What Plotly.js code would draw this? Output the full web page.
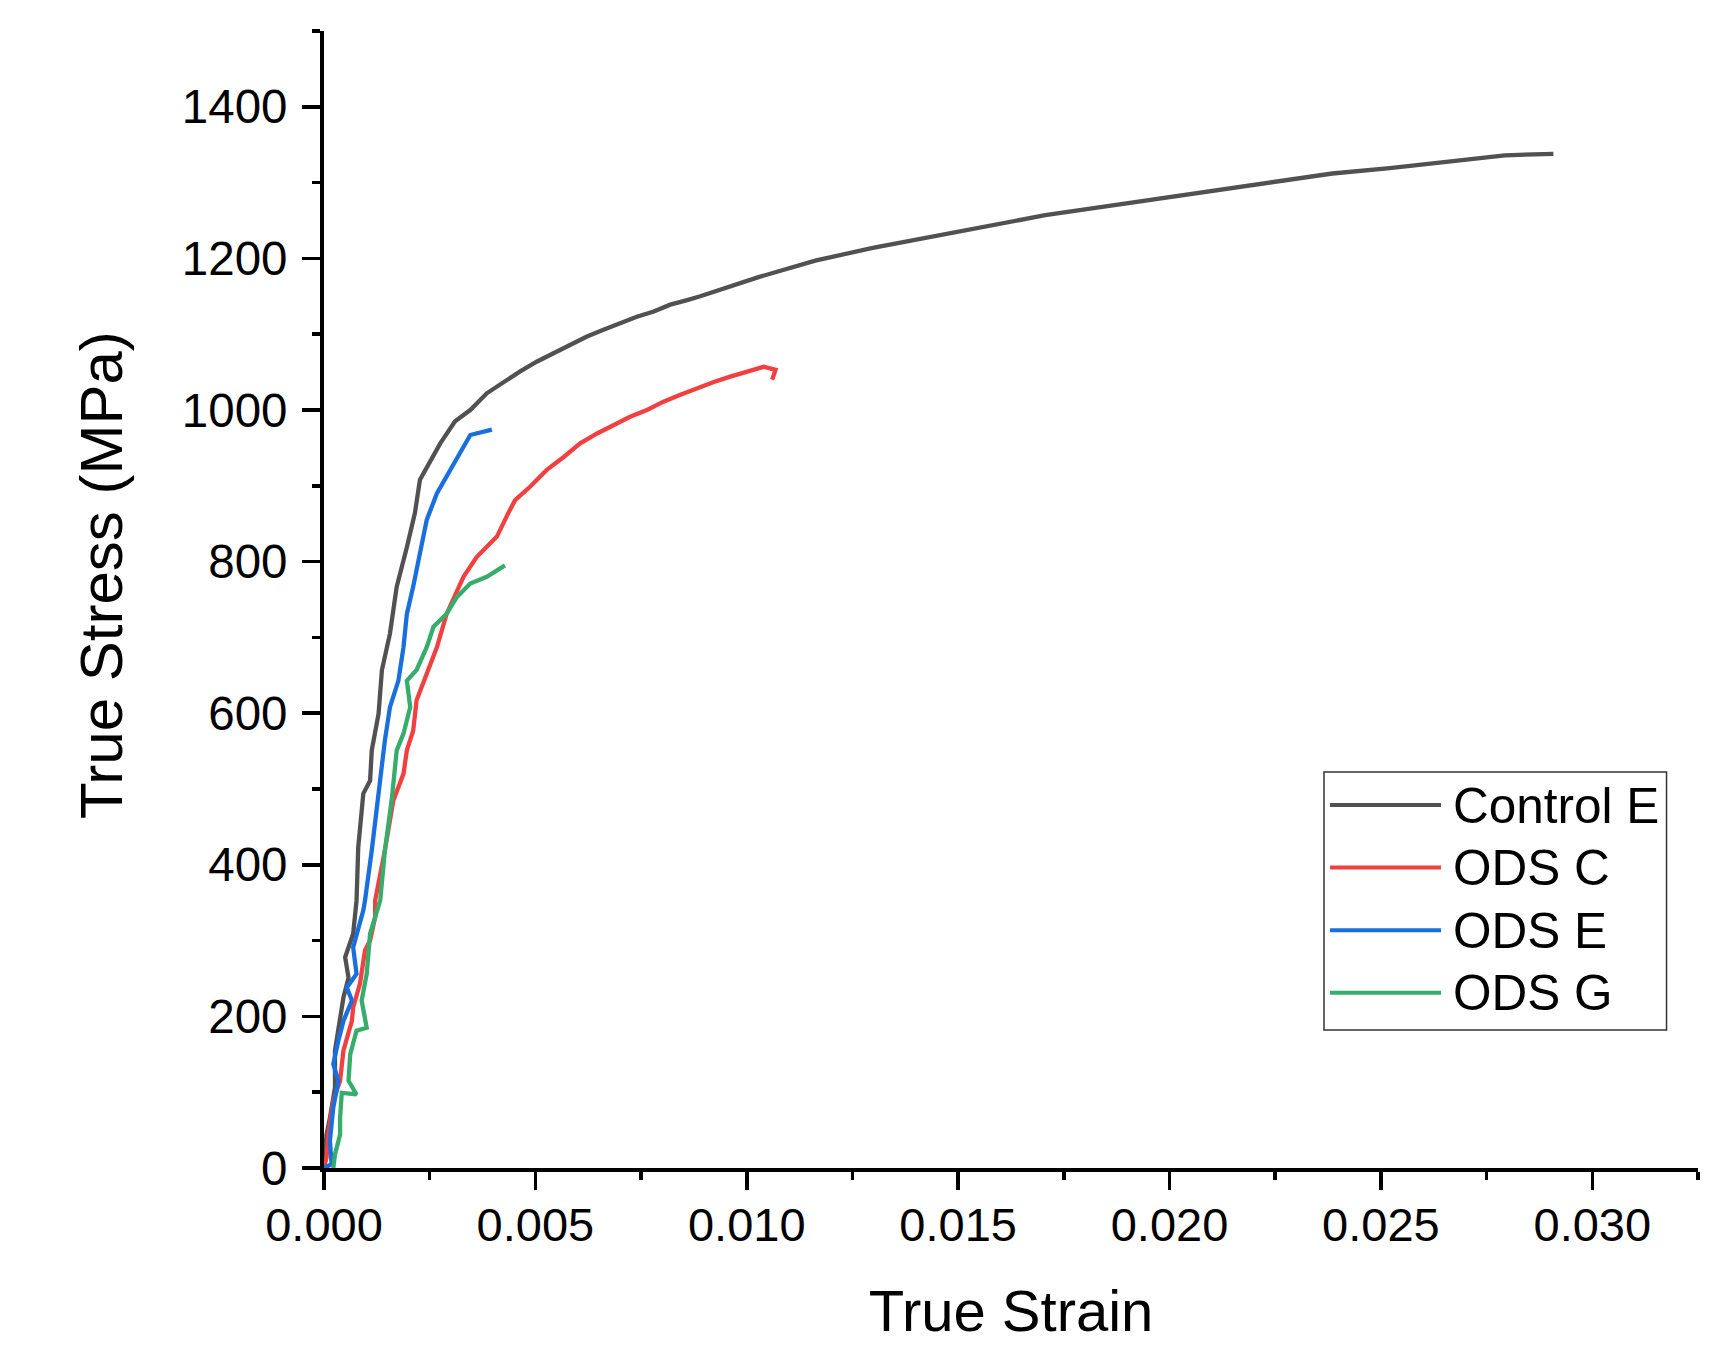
<!DOCTYPE html>
<html>
<head>
<meta charset="utf-8">
<script src="https://cdn.plot.ly/plotly-3.0.1.min.js"></script>
<style>
  html, body { margin: 0; padding: 0; background: #ffffff; }
  #chart { width: 1729px; height: 1346px; }
</style>
</head>
<body>
<div id="chart"></div>
<script>
// ---------- data ----------
const seriesNames = ["Control E", "ODS C", "ODS E", "ODS G"];
const seriesColors = ["#515151", "#F14040", "#1A6FDF", "#37AD6B"];

const strainControlE = [0, 0.00006, 0.00014, 0.00026, 0.00026, 0.00034, 0.00046, 0.00058, 0.0005, 0.00069, 0.00077, 0.00081, 0.00093, 0.00109, 0.00113, 0.00129, 0.00137, 0.00156, 0.00172, 0.00196, 0.00215, 0.00227, 0.00275, 0.0031, 0.00346, 0.00385, 0.00424, 0.00464, 0.00504, 0.00543, 0.00582, 0.00622, 0.00661, 0.00701, 0.0074, 0.0078, 0.00819, 0.00859, 0.0089, 0.01026, 0.01162, 0.01298, 0.01434, 0.0157, 0.01706, 0.01841, 0.01977, 0.02113, 0.02249, 0.02385, 0.02521, 0.02657, 0.02793, 0.02908];
const stressControlE = [0, 44, 66, 106, 155, 185, 225, 251, 278, 309, 353, 423, 494, 511, 551, 599, 657, 705, 767, 819, 864, 908, 956, 985, 1000, 1022, 1037, 1051, 1064, 1075, 1086, 1097, 1106, 1115, 1123, 1130, 1139, 1145, 1150, 1175, 1197, 1214, 1228, 1243, 1257, 1268, 1279, 1290, 1301, 1312, 1319, 1327, 1336, 1338];

const strainODSC = [0, 0.00006, 0.0001, 0.00022, 0.00038, 0.00046, 0.00066, 0.00069, 0.00085, 0.00097, 0.00109, 0.00121, 0.00121, 0.00144, 0.00164, 0.00188, 0.00196, 0.00211, 0.00219, 0.00243, 0.00267, 0.0029, 0.00314, 0.0033, 0.00361, 0.00409, 0.00435, 0.00452, 0.00488, 0.00527, 0.00567, 0.00606, 0.00646, 0.00685, 0.00724, 0.00764, 0.00803, 0.00843, 0.00882, 0.00922, 0.00961, 0.01001, 0.0104, 0.01068, 0.0106];
const stressODSC = [0, 14, 44, 89, 115, 155, 194, 212, 243, 287, 300, 331, 353, 419, 485, 520, 551, 577, 617, 652, 687, 731, 762, 780, 806, 833, 863, 881, 899, 921, 938, 956, 969, 980, 991, 1000, 1011, 1020, 1029, 1037, 1044, 1051, 1057, 1053, 1040];

const strainODSE = [0, 0.00018, 0.00014, 0.00022, 0.00034, 0.00022, 0.00034, 0.00046, 0.00066, 0.00054, 0.00077, 0.00069, 0.00093, 0.00097, 0.00113, 0.00129, 0.00133, 0.00144, 0.00156, 0.00176, 0.00188, 0.00196, 0.00211, 0.00227, 0.00243, 0.00267, 0.0029, 0.00322, 0.00346, 0.00397];
const stressODSE = [0, 5, 36, 80, 115, 137, 168, 194, 221, 238, 256, 291, 340, 353, 419, 494, 520, 564, 608, 643, 687, 731, 767, 811, 855, 890, 912, 943, 967, 974];

const strainODSG = [0.00022, 0.00026, 0.00038, 0.00038, 0.00042, 0.00077, 0.00058, 0.00062, 0.00077, 0.00101, 0.00089, 0.00101, 0.00109, 0.00113, 0.00133, 0.00144, 0.0016, 0.00172, 0.00188, 0.00204, 0.00196, 0.00219, 0.00243, 0.00259, 0.0029, 0.00314, 0.00346, 0.00385, 0.00428];
const stressODSG = [0, 18, 44, 66, 99, 97, 115, 150, 181, 185, 221, 256, 309, 317, 353, 419, 485, 551, 573, 608, 643, 657, 687, 714, 731, 753, 771, 780, 795];

const xTickVals = [0, 0.005, 0.010, 0.015, 0.020, 0.025, 0.030];
const xTickText = ["0.000", "0.005", "0.010", "0.015", "0.020", "0.025", "0.030"];
const yTickVals = [0, 200, 400, 600, 800, 1000, 1200, 1400];
const yTickText = ["0", "200", "400", "600", "800", "1000", "1200", "1400"];
const xTitle = "True Strain";
const yTitle = "True Stress (MPa)";

// ---------- build ----------
const xs = [strainControlE, strainODSC, strainODSE, strainODSG];
const ys = [stressControlE, stressODSC, stressODSE, stressODSG];

const traces = seriesNames.map((name, i) => ({
  type: "scatter",
  mode: "lines",
  name: name,
  x: xs[i],
  y: ys[i],
  line: { color: seriesColors[i], width: 4.3 },
  showlegend: false,
  hoverinfo: "skip"
}));

const FONT = "Liberation Sans, Arial, sans-serif";

// custom legend box (Origin style, long line samples)
const legendBox = { x0: 0.7278, x1: 0.9771, y0: 0.1214, y1: 0.3483 };
const legendLineX = [0.7322, 0.8130];
const legendTextX = 0.8203;
const legendTopY = 0.3192;
const legendStep = 0.0550;

const shapes = [{
  type: "rect", xref: "paper", yref: "paper",
  x0: legendBox.x0, x1: legendBox.x1, y0: legendBox.y0, y1: legendBox.y1,
  line: { color: "#333333", width: 1.5 }, fillcolor: "rgba(255,255,255,1)", layer: "above"
}];
const annotations = [];
seriesNames.forEach((name, i) => {
  const yy = legendTopY - i * legendStep;
  shapes.push({
    type: "line", xref: "paper", yref: "paper",
    x0: legendLineX[0], x1: legendLineX[1], y0: yy, y1: yy,
    line: { color: seriesColors[i], width: 4 }, layer: "above"
  });
  annotations.push({
    xref: "paper", yref: "paper", x: legendTextX, y: yy,
    xanchor: "left", yanchor: "middle", showarrow: false,
    text: name, font: { family: FONT, size: 49.5, color: "#000000" }
  });
});

// y-axis title placed like the reference (slightly above the plot centre)
annotations.push({
  xref: "paper", yref: "paper", x: 0, y: 0.5215, xshift: -223,
  xanchor: "center", yanchor: "middle", showarrow: false, textangle: -90,
  text: yTitle, font: { family: FONT, size: 60, color: "#000000" }
});

const layout = {
  width: 1729,
  height: 1346,
  margin: { l: 324, r: 31, t: 31, b: 178, pad: 0 },
  paper_bgcolor: "#ffffff",
  plot_bgcolor: "#ffffff",
  showlegend: false,
  font: { family: FONT, color: "#000000" },
  xaxis: {
    range: [0, 0.0325],
    tickvals: xTickVals,
    ticktext: xTickText,
    tickfont: { family: FONT, size: 47, color: "#000000" },
    ticklabelstandoff: -5,
    ticks: "outside", ticklen: 18, tickwidth: 3.5, tickcolor: "#000000",
    minor: { dtick: 0.0025, tick0: 0, ticks: "outside", ticklen: 8, tickwidth: 3.5, tickcolor: "#000000", showgrid: false },
    showline: true, linewidth: 4, linecolor: "#000000",
    showgrid: false, zeroline: false, automargin: false,
    title: { text: xTitle, font: { family: FONT, size: 58, color: "#000000" }, standoff: 41 }
  },
  yaxis: {
    range: [0, 1500],
    tickvals: yTickVals,
    ticktext: yTickText,
    tickfont: { family: FONT, size: 47.5, color: "#000000" },
    ticklabelstandoff: 5,
    ticks: "outside", ticklen: 18, tickwidth: 3.5, tickcolor: "#000000",
    minor: { dtick: 100, tick0: 0, ticks: "outside", ticklen: 8, tickwidth: 3.5, tickcolor: "#000000", showgrid: false },
    showline: true, linewidth: 4, linecolor: "#000000",
    showgrid: false, zeroline: false, automargin: false
  },
  shapes: shapes,
  annotations: annotations
};

Plotly.newPlot("chart", traces, layout, { displayModeBar: false, staticPlot: true });
</script>
</body>
</html>
